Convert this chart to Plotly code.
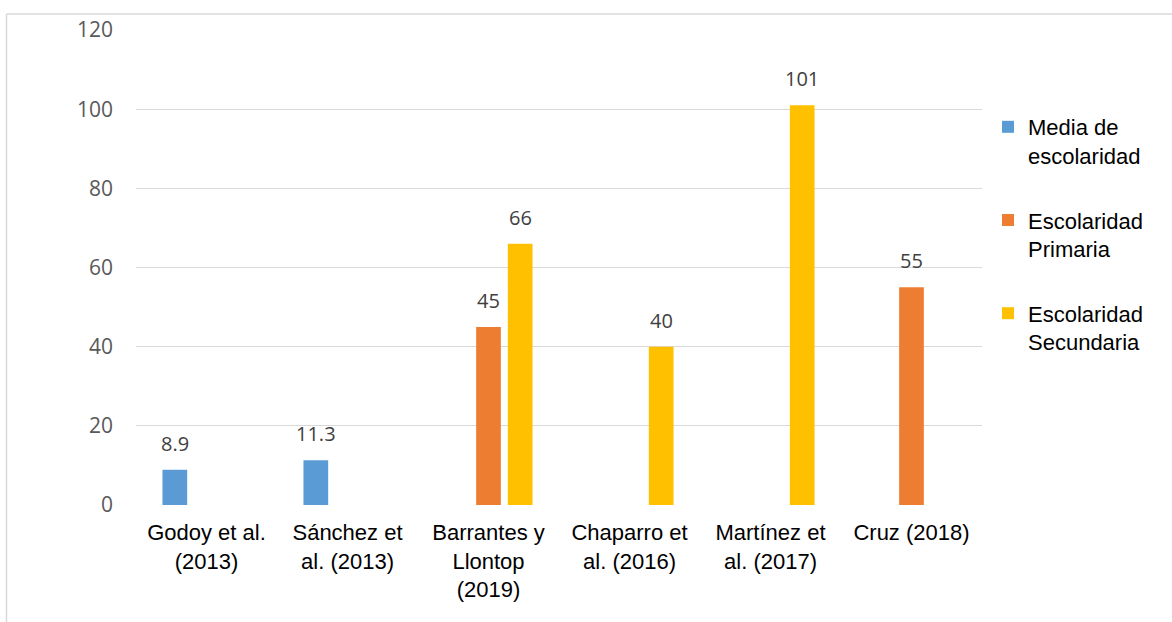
import plotly.graph_objects as go

categories = ["Godoy et al.<br>(2013)", "Sánchez et<br>al. (2013)", "Barrantes y<br>Llontop<br>(2019)",
              "Chaparro et<br>al. (2016)", "Martínez et<br>al. (2017)", "Cruz (2018)"]
series_names = ["Media de<br>escolaridad", "Escolaridad<br>Primaria", "Escolaridad<br>Secundaria"]
media = [8.9, 11.3, None, None, None, None]
primaria = [None, None, 45, None, None, 55]
secundaria = [None, None, 66, 40, 101, None]
colors = ["#5B9BD5", "#ED7D31", "#FFC000"]
y_ticks = [0, 20, 40, 60, 80, 100, 120]

all_series = [media, primaria, secundaria]

fig = go.Figure()
for i, (name, vals, col) in enumerate(zip(series_names, all_series, colors)):
    fig.add_trace(go.Bar(x=categories, y=vals, name=name, marker_color=col,
                         legendgroup=f"g{i}", marker_line_width=0))

W, H = 1172, 622
ml, mr, mt, mb = 136, 190, 30, 117
plot_w = W - ml - mr
slot_px = plot_w / len(categories) * (1 - 0.326) / 3

annotations = []
for i, vals in enumerate(all_series):
    for c, v in zip(categories, vals):
        if v is None:
            continue
        annotations.append(dict(x=c, y=v, xref="x", yref="y", text=f"{v:g}", showarrow=False,
                                xshift=(i - 1) * slot_px, yanchor="bottom", yshift=11,
                                font=dict(family="Open Sans", size=20, color="#404040")))

def px_to_paper_x(px):
    return (px - ml) / plot_w
plot_h = H - mt - mb
def px_to_paper_y(py):
    return (H - mb - py) / plot_h

shapes = [
    dict(type="line", xref="paper", yref="paper", x0=px_to_paper_x(6.5), x1=px_to_paper_x(1200),
         y0=px_to_paper_y(14), y1=px_to_paper_y(14), line=dict(color="#d9d9d9", width=1.5)),
    dict(type="line", xref="paper", yref="paper", x0=px_to_paper_x(6.5), x1=px_to_paper_x(6.5),
         y0=px_to_paper_y(14), y1=px_to_paper_y(640), line=dict(color="#d9d9d9", width=1.5)),
]

fig.update_layout(
    width=W, height=H,
    margin=dict(l=ml, r=mr, t=mt, b=mb),
    paper_bgcolor="white", plot_bgcolor="white",
    barmode="group", bargap=0.326, bargroupgap=0.22,
    font=dict(family="Liberation Sans, Arial", size=22, color="#000000"),
    legend=dict(x=px_to_paper_x(988), xanchor="left", y=px_to_paper_y(106), yanchor="top",
                valign="top", tracegroupgap=33, font=dict(family="Liberation Sans, Arial", size=22, color="#000000"),
                bgcolor="rgba(0,0,0,0)"),
    annotations=annotations,
    shapes=shapes,
    xaxis=dict(showgrid=False, showline=False, tickfont=dict(family="Liberation Sans, Arial", size=22, color="#000000"),
               ticklabelstandoff=12, zeroline=False),
    yaxis=dict(range=[0, 120], tickvals=y_ticks, showgrid=True, gridcolor="#d9d9d9", gridwidth=1.3,
               zeroline=False, showline=False,
               tickfont=dict(family="Open Sans", size=21, color="#595959"), ticklabelstandoff=22),
)

fig.write_html("out.html")
